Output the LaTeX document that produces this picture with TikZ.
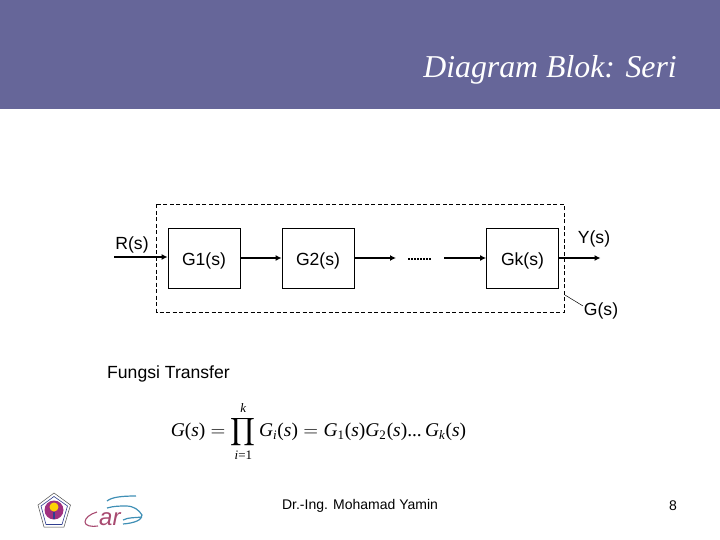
\documentclass[tikz,border=0pt]{standalone}
\usepackage{fontspec}
\setmainfont{Liberation Sans}
\newfontfamily\serifit{Liberation Serif}
\usepackage{amsmath}
\usetikzlibrary{arrows.meta}
\definecolor{hdr}{HTML}{666699}
\definecolor{sealblue}{HTML}{2F3E8F}
\definecolor{sealmag}{HTML}{A0307F}
\definecolor{carblue}{HTML}{3F8FB5}
\definecolor{carred}{HTML}{A84A70}
\newcommand\eqi[1]{\text{\serifit\itshape #1}}
\newcommand\eqr[1]{\text{\serifit #1}}
\newcommand\eqs{\eqr{(}\eqi{s}\eqr{)}}
\tikzset{
  x=1pt,y=-1pt,
  blockbox/.style={draw,line width=0.8pt,minimum width=72pt,minimum height=60pt,inner sep=0pt,text height=14pt,text depth=0pt,font=\fontsize{17.6}{20}\selectfont},
  lbl/.style={inner sep=0pt,font=\fontsize{17.6}{20}\selectfont},
  flow/.style={line width=1.3pt,-{Latex[length=6pt,width=6pt]}}
}
\begin{document}
\begin{tikzpicture}
\useasboundingbox (0,0) rectangle (720,540);
\fill[hdr] (0,0) rectangle (720,109);
\node[anchor=east,inner sep=0pt,text=white,font=\serifit\itshape\fontsize{31.8}{36}\selectfont] (title) at (677,70) {Diagram Blok: Seri};

\draw[line width=0.8pt,dash pattern=on 4pt off 2.5pt] (156.5,204.5) rectangle (564.5,312);

\node[blockbox] (g1) at (204,258) {G1(s)};
\node[blockbox] (g2) at (318,258) {G2(s)};
\node[blockbox] (gk) at (522.5,258) {Gk(s)};

\coordinate (rin) at (114,257);
\coordinate (g2out) at (396,258);
\coordinate (kin) at (444,258);
\coordinate (yout) at (600.5,258);
\coordinate (dotsa) at (408,258.5);
\coordinate (dotsb) at (431,258.5);
\coordinate (leada) at (565,295);
\coordinate (leadb) at (583,306);

\draw[flow] (rin) -- (g1.west |- rin);
\draw[flow] (g1.east) -- (g2.west);
\draw[flow] (g2.east) -- (g2out);
\draw[line width=2pt,dash pattern=on 2pt off 1pt] (dotsa) -- (dotsb);
\draw[flow] (kin) -- (gk.west);
\draw[flow] (gk.east) -- (yout);
\draw[line width=0.5pt] (leada) -- (leadb);

\node[lbl] (r) at (132,245) {R(s)};
\node[lbl] (y) at (594,238.5) {Y(s)};
\node[lbl] (g) at (601,310.5) {G(s)};
\node[lbl,anchor=west] (ft) at (107,374) {Fungsi Transfer};

\node[inner sep=0pt,scale=1.62,font=\fontsize{12}{14}\selectfont] (eq) at (318.5,431.5)
  {$\displaystyle \eqi{G}\eqs=\prod_{\eqi{i}\eqr{=1}}^{\eqi{k}}\eqi{G}_{\eqi{i}}\eqs=\eqi{G}_{\eqr{1}}\eqs\eqi{G}_{\eqr{2}}\eqs\eqr{...}\,\eqi{G}_{\eqi{k}}\eqs$};

\node[inner sep=0pt,font=\fontsize{14}{16}\selectfont] (auth) at (360,506) {Dr.-Ing. Mohamad Yamin};
\node[inner sep=0pt,font=\fontsize{14}{16}\selectfont] (pg) at (673,506) {8};

% seal
\fill[white,draw=black!70,line width=0.5pt] (54,493) -- (70.5,505) -- (64,527) -- (44,527) -- (38,505) -- cycle;
\draw[sealblue,line width=0.6pt] (54,496.5) -- (67.5,506) -- (62,524.5) -- (46,524.5) -- (41,506) -- cycle;
\fill[sealmag] (54,510) circle (9.5);
\fill[yellow!70!orange] (54,507) circle (4.5);
\fill[sealblue] (53,512) rectangle (55,519);

% car logo
\draw[carblue,line width=1.2pt] (107,501) .. controls (112,497) and (122,496) .. (136,496);
\draw[carblue,line width=1.2pt] (107,508) .. controls (114,506) and (120,506) .. (126,506) .. controls (134,506) and (139,510) .. (142,515) .. controls (142,520) and (135,523) .. (123,524);
\draw[carblue,line width=1.2pt] (123,520) .. controls (129,517) and (135,518) .. (142,517);
\draw[carred,line width=1.1pt] (97,512) .. controls (90,514) and (85,518) .. (85,522) .. controls (85,526) and (92,527) .. (98,526);
\node[inner sep=0pt,anchor=base west,text=carred,font=\fontsize{24}{26}\selectfont\itshape] (car) at (99,525) {ar};
\end{tikzpicture}
\end{document}
